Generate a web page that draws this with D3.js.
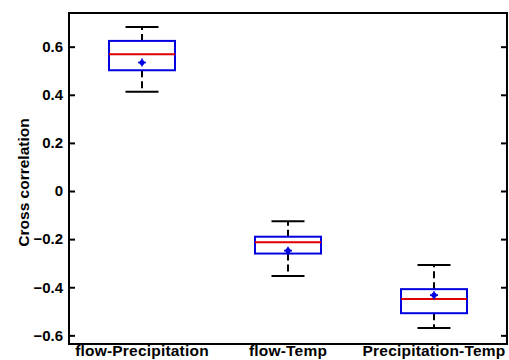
<!DOCTYPE html>
<html>
<head>
<meta charset="utf-8">
<script src="https://cdn.jsdelivr.net/npm/d3@7"></script>
<style>
  html, body { margin: 0; padding: 0; background: #fff; }
  svg { display: block; }
  text { font-family: Arial, "Liberation Sans", sans-serif; font-weight: bold; fill: #000; }
</style>
</head>
<body>
<svg id="chart" width="509" height="360"></svg>
<script>
// Pair names and box-plot statistics of the cross correlations
const categories = ["flow-Precipitation", "flow-Temp", "Precipitation-Temp"];
const whiskerLow  = [0.413, -0.353, -0.569];
const q1          = [0.502, -0.260, -0.508];
const median      = [0.569, -0.213, -0.449];
const q3          = [0.624, -0.190, -0.408];
const whiskerHigh = [0.682, -0.126, -0.308];
const mean        = [0.534, -0.248, -0.433];
const yTicks = [-0.6, -0.4, -0.2, 0, 0.2, 0.4, 0.6];

const svg = d3.select("#chart");
const plotLeft = 69, plotRight = 507, plotTop = 13, plotBottom = 344;

const x = d3.scaleLinear().domain([0.5, 3.5]).range([plotLeft, plotRight]);
const y = d3.scaleLinear().domain([-0.636, 0.74]).range([plotBottom, plotTop]);

const boxHalf = 0.226; // half box width in category units
const capHalf = 0.113;

// frame
svg.append("rect")
  .attr("x", plotLeft).attr("y", plotTop)
  .attr("width", plotRight - plotLeft).attr("height", plotBottom - plotTop)
  .attr("fill", "none").attr("stroke", "#000").attr("stroke-width", 2);

// left axis, ticks pointing inward
const yAxis = svg.append("g").attr("transform", `translate(${plotLeft},0)`)
  .call(d3.axisRight(y).tickValues(yTicks).tickSize(6).tickFormat(d3.format("")));
yAxis.select(".domain").remove();
yAxis.selectAll(".tick line").attr("stroke", "#000").attr("stroke-width", 2);
yAxis.selectAll(".tick text")
  .attr("x", -6).attr("text-anchor", "end")
  .style("font-size", "15px").style("font-family", "Arial, 'Liberation Sans', sans-serif")
  .style("font-weight", "bold");

// right axis, ticks pointing inward, no labels
const yAxisR = svg.append("g").attr("transform", `translate(${plotRight},0)`)
  .call(d3.axisLeft(y).tickValues(yTicks).tickSize(6).tickFormat(""));
yAxisR.select(".domain").remove();
yAxisR.selectAll(".tick line").attr("stroke", "#000").attr("stroke-width", 2);

// category labels
svg.append("g").selectAll("text").data(categories).join("text")
  .attr("x", (d, i) => x(i + 1)).attr("y", 356)
  .attr("text-anchor", "middle")
  .style("font-size", "15.5px")
  .style("letter-spacing", "0.2px")
  .text(d => d);

// y-axis title
svg.append("text")
  .attr("transform", `translate(29,${(plotTop + plotBottom) / 2 + 4}) rotate(-90)`)
  .attr("text-anchor", "middle")
  .style("font-size", "15.5px")
  .text("Cross correlation");

const g = svg.append("g");
categories.forEach((c, i) => {
  const cx = x(i + 1);
  const bx0 = x(i + 1 - boxHalf), bx1 = x(i + 1 + boxHalf);
  const cx0 = x(i + 1 - capHalf), cx1 = x(i + 1 + capHalf);

  // dashed whiskers
  g.append("line").attr("x1", cx).attr("x2", cx)
    .attr("y1", y(q3[i])).attr("y2", y(whiskerHigh[i]))
    .attr("stroke", "#000").attr("stroke-width", 2).attr("stroke-dasharray", "7,4");
  g.append("line").attr("x1", cx).attr("x2", cx)
    .attr("y1", y(q1[i])).attr("y2", y(whiskerLow[i]))
    .attr("stroke", "#000").attr("stroke-width", 2).attr("stroke-dasharray", "7,4");

  // caps
  [whiskerHigh[i], whiskerLow[i]].forEach(v => {
    g.append("line").attr("x1", cx0).attr("x2", cx1)
      .attr("y1", y(v)).attr("y2", y(v))
      .attr("stroke", "#000").attr("stroke-width", 2);
  });

  // box
  g.append("rect")
    .attr("x", bx0).attr("y", y(q3[i]))
    .attr("width", bx1 - bx0).attr("height", y(q1[i]) - y(q3[i]))
    .attr("fill", "#fff").attr("stroke", "#0000e0").attr("stroke-width", 2);

  // median
  g.append("line").attr("x1", bx0).attr("x2", bx1)
    .attr("y1", y(median[i])).attr("y2", y(median[i]))
    .attr("stroke", "#e00000").attr("stroke-width", 2);

  // mean marker
  g.append("circle").attr("cx", cx).attr("cy", y(mean[i])).attr("r", 2.6)
    .attr("fill", "#0000e0");
  g.append("path")
    .attr("d", `M${cx - 4},${y(mean[i])}H${cx + 4}M${cx},${y(mean[i]) - 4}V${y(mean[i]) + 4}`)
    .attr("stroke", "#0000e0").attr("stroke-width", 1.6);
});
</script>
</body>
</html>
